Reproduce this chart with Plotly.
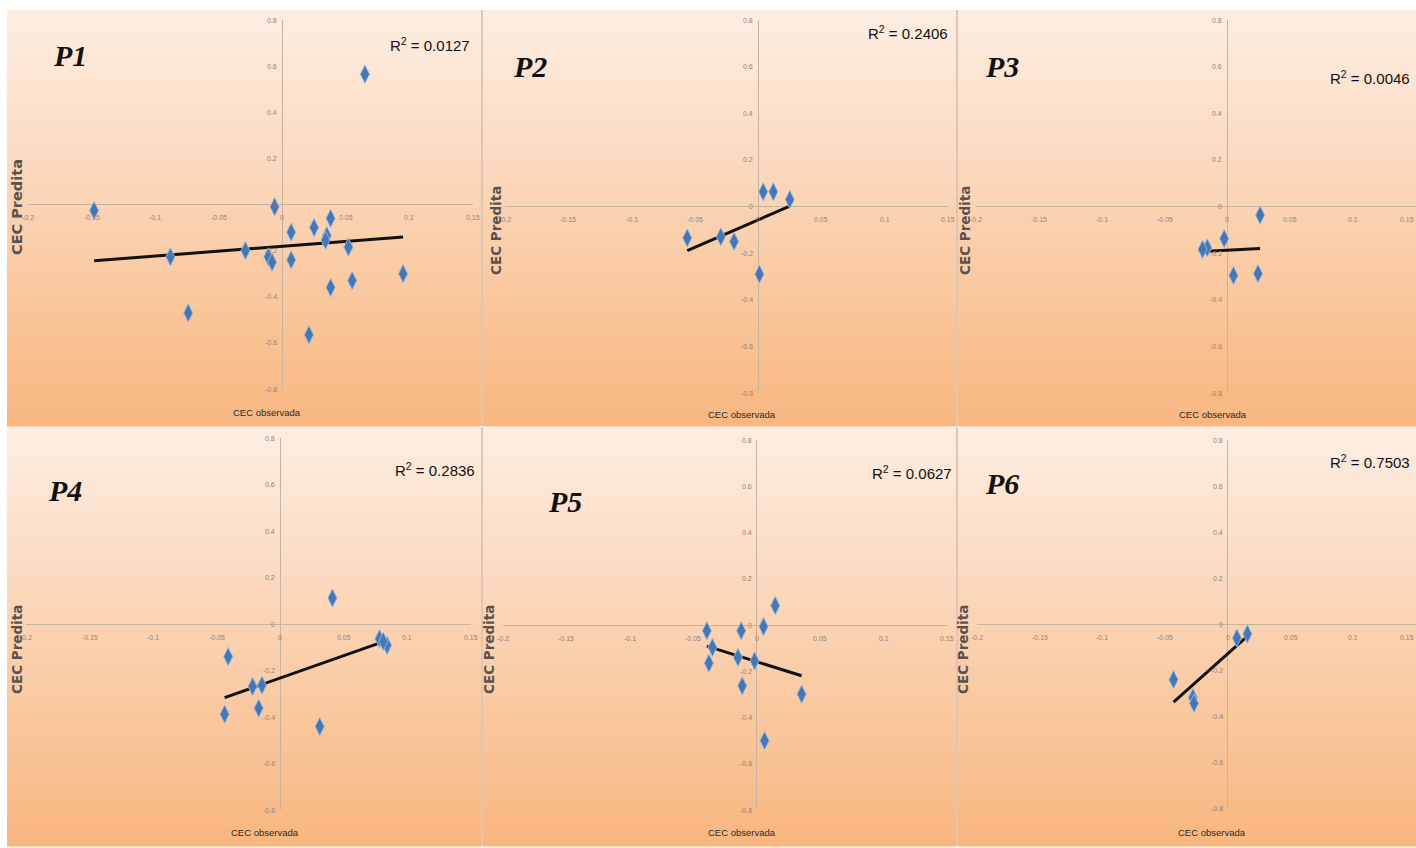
import numpy as np
import plotly.graph_objects as go

# Observed vs predicted CEC for six profiles
p1_obs = [-0.148, -0.006, 0.038, 0.007, 0.025, 0.035, 0.034, 0.052, -0.088, -0.029,
          -0.011, -0.008, 0.007, 0.095, 0.055, 0.038, -0.074, 0.021, 0.065]
p1_pred = [-0.026, -0.010, -0.060, -0.120, -0.100, -0.135, -0.155, -0.185, -0.227, -0.200,
           -0.227, -0.250, -0.240, -0.300, -0.330, -0.360, -0.470, -0.565, 0.565]

p2_obs = [0.004, 0.012, 0.025, -0.056, -0.0295, -0.019, 0.001]
p2_pred = [0.063, 0.063, 0.030, -0.135, -0.130, -0.150, -0.290]

p3_obs = [0.026, -0.0026, -0.016, -0.0198, 0.0048, 0.0243]
p3_pred = [-0.037, -0.138, -0.177, -0.184, -0.296, -0.288]

p4_obs = [0.041, 0.078, 0.084, 0.081, -0.041, -0.0218, -0.0144, -0.017, -0.0438, 0.031]
p4_pred = [0.112, -0.063, -0.092, -0.075, -0.140, -0.269, -0.263, -0.362, -0.388, -0.441]

p5_obs = [0.0146, 0.0054, -0.0122, -0.0393, -0.0349, -0.0377, -0.0148, -0.0017, -0.0114, 0.0354, 0.0062]
p5_pred = [0.084, -0.007, -0.025, -0.025, -0.097, -0.165, -0.140, -0.155, -0.263, -0.299, -0.500]

p6_obs = [0.0072, 0.0156, -0.0433, -0.0279, -0.0270]
p6_pred = [-0.061, -0.043, -0.242, -0.320, -0.345]

panel_names = ["P1", "P2", "P3", "P4", "P5", "P6"]
r2_labels = ["0.0127", "0.2406", "0.0046", "0.2836", "0.0627", "0.7503"]

x_ticks = [-0.2, -0.15, -0.1, -0.05, 0, 0.05, 0.1, 0.15]
x_tick_text = ["-0.2", "-0.15", "-0.1", "-0.05", "0", "0.05", "0.1", "0.15"]
y_ticks = [0.8, 0.6, 0.4, 0.2, 0, -0.2, -0.4, -0.6, -0.8]
y_tick_text = ["0.8", "0.6", "0.4", "0.2", "0", "-0.2", "-0.4", "-0.6", "-0.8"]

x_title = "CEC observada"
y_title = "CEC Predita"

series = [(p1_obs, p1_pred), (p2_obs, p2_pred), (p3_obs, p3_pred),
          (p4_obs, p4_pred), (p5_obs, p5_pred), (p6_obs, p6_pred)]

W, H = 1416, 848


def px_x(v):
    return v / W


def px_y(v):
    return 1 - v / H


# panel boxes (pixels): left, right, top, bottom
panel_boxes = [(7, 481, 10, 426), (483, 956, 10, 426), (958, 1416, 10, 426),
               (7, 481, 427, 846), (483, 956, 427, 846), (958, 1416, 427, 846)]
# plotting area of each panel (pixels): x from, x to, y top, y bottom
axis_boxes = [(28, 473, 20, 389), (505, 948, 20, 393), (976, 1416, 20, 393),
              (26, 471, 438, 810), (503, 947, 440, 810), (977, 1416, 440, 808)]
# label centres (pixels); the right column's R² is right-aligned
name_pos = [(70, 55), (530, 66), (1002, 67), (65, 490), (565, 501), (1002, 483)]
r2_pos = [(430, 44), (908, 33), (1412, 78), (435, 469), (912, 472), (1412, 462)]
r2_anchor = ["center", "center", "right", "center", "center", "right"]
xtitle_pos = [(267, 412), (742, 415), (1213, 415), (265, 832), (742, 832), (1212, 832)]
ytitle_pos = [(17, 207), (496, 231), (965, 231), (17, 650), (489, 650), (963, 650)]
ytitle_size = [14.5, 13.5, 13.5, 13.5, 13.5, 13.5]

top_rgb = np.array([253, 238, 227])
bot_rgb = np.array([249, 182, 127])

fig = go.Figure()
shapes = []
annotations = []
tick_font = dict(size=7, color="rgb(150,130,115)", family="Liberation Sans")

# gradient backgrounds made of thin horizontal strips
n_strips = 70
for (l, r, t, b) in panel_boxes:
    edges = np.linspace(t, b, n_strips + 1)
    for i in range(n_strips):
        f = (i + 0.5) / n_strips
        c = top_rgb + (bot_rgb - top_rgb) * f
        shapes.append(dict(type="rect", xref="paper", yref="paper", layer="below",
                           x0=px_x(l), x1=px_x(r), y0=px_y(edges[i + 1] + 0.6), y1=px_y(edges[i]),
                           line=dict(width=0), fillcolor="rgb(%d,%d,%d)" % tuple(c.astype(int))))

# thin separators between columns
for xs in (482, 957):
    for (t, b) in ((10, 426), (427, 846)):
        shapes.append(dict(type="line", xref="paper", yref="paper", layer="below",
                           x0=px_x(xs), x1=px_x(xs), y0=px_y(b), y1=px_y(t),
                           line=dict(color="rgb(214,178,152)", width=1.5)))

for k, (obs, pred) in enumerate(series):
    ax = "" if k == 0 else str(k + 1)
    xa, ya = "x" + ax, "y" + ax
    x0p, x1p, y0p, y1p = axis_boxes[k]
    fig.update_layout(**{
        "xaxis" + ax: dict(domain=[px_x(x0p), px_x(x1p)], range=[-0.2, 0.15], anchor=ya,
                           showgrid=False, showticklabels=False, showline=False, ticks="",
                           zeroline=True, zerolinecolor="rgb(200,178,160)", zerolinewidth=1),
        "yaxis" + ax: dict(domain=[px_y(y1p), px_y(y0p)], range=[-0.8, 0.8], anchor=xa,
                           showgrid=False, showticklabels=False, showline=False, ticks="",
                           zeroline=True, zerolinecolor="rgb(200,178,160)", zerolinewidth=1),
    })

    # linear trend line over the observed range
    slope, intercept = np.polyfit(obs, pred, 1)
    xl = np.array([min(obs), max(obs)])
    fig.add_trace(go.Scatter(x=xl, y=slope * xl + intercept, mode="lines", xaxis=xa, yaxis=ya,
                             line=dict(color="#111111", width=3), showlegend=False, hoverinfo="skip"))
    fig.add_trace(go.Scatter(x=obs, y=pred, mode="markers", xaxis=xa, yaxis=ya,
                             marker=dict(symbol="diamond-tall", size=13, color="#4677B5",
                                         line=dict(color="rgba(150,185,225,0.9)", width=1)),
                             showlegend=False))

    # tick labels placed along the zero lines
    last_col = k in (2, 5)
    for v, s in zip(x_ticks, x_tick_text):
        anchor = "right" if (last_col and v == x_ticks[-1]) else "center"
        annotations.append(dict(x=v, y=0, xref=xa, yref=ya, text=s, showarrow=False,
                                xanchor=anchor, yanchor="middle", yshift=-13, font=tick_font))
    for v, s in zip(y_ticks, y_tick_text):
        annotations.append(dict(x=0, y=v, xref=xa, yref=ya, text=s, showarrow=False,
                                xanchor="right", yanchor="middle", xshift=-3, font=tick_font))

    nx, ny = name_pos[k]
    annotations.append(dict(x=px_x(nx), y=px_y(ny), xref="paper", yref="paper", showarrow=False,
                            xanchor="center", yanchor="middle",
                            text="<b><i>%s</i></b>" % panel_names[k],
                            font=dict(size=30, color="#111111", family="Liberation Serif")))
    rx, ry = r2_pos[k]
    annotations.append(dict(x=px_x(rx), y=px_y(ry), xref="paper", yref="paper", showarrow=False,
                            xanchor=r2_anchor[k], yanchor="middle",
                            text="R<sup>2</sup> = %s" % r2_labels[k],
                            font=dict(size=15, color="#111111", family="Liberation Sans")))
    tx, ty = xtitle_pos[k]
    annotations.append(dict(x=px_x(tx), y=px_y(ty), xref="paper", yref="paper", showarrow=False,
                            xanchor="center", yanchor="middle", text=x_title,
                            font=dict(size=9.5, color="#2e2825", family="Liberation Sans")))
    vx, vy = ytitle_pos[k]
    annotations.append(dict(x=px_x(vx), y=px_y(vy), xref="paper", yref="paper", showarrow=False,
                            xanchor="center", yanchor="middle",
                            text="<b>%s</b>" % y_title, textangle=-90,
                            font=dict(size=ytitle_size[k], color="#5a524e", family="DejaVu Sans")))

fig.update_layout(width=W, height=H, margin=dict(l=0, r=0, t=0, b=0),
                  paper_bgcolor="white", plot_bgcolor="rgba(0,0,0,0)",
                  shapes=shapes, annotations=annotations, showlegend=False)

fig.write_html("out.html")
